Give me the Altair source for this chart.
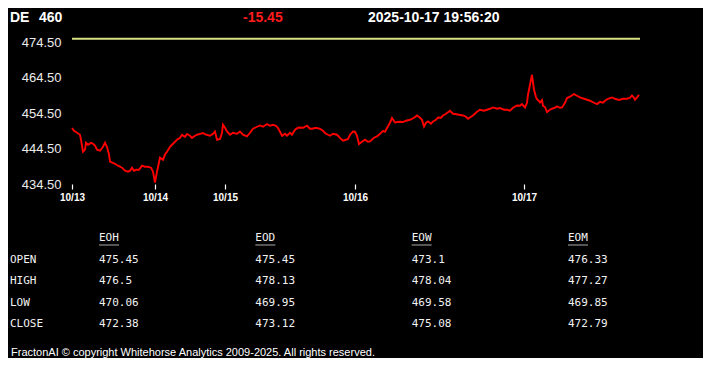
import altair as alt
import pandas as pd

# ---------------- header / footer text ----------------
symbol = "DE"
last_price = "460"
change = "-15.45"
timestamp = "2025-10-17 19:56:20"
footer = "FractonAI © copyright Whitehorse Analytics 2009-2025. All rights reserved."

# ---------------- price series (session index, price) ----------------
t_idx = [0, 2, 5, 8, 9, 11, 13, 14, 16, 19, 21, 23, 25, 28, 31, 33, 35, 37, 38, 43,
         46, 50, 53, 56, 58, 60, 62, 64, 67, 70, 73, 76, 79, 81, 83, 85, 88, 91, 93, 95,
         98, 100, 103, 105, 108, 110, 113, 115, 118, 120, 123, 125, 128, 131, 134, 138, 141, 143, 145, 148,
         150, 151, 153, 155, 158, 161, 165, 168, 171, 175, 178, 181, 185, 188, 191, 195, 198, 201, 204, 206,
         208, 210, 213, 215, 218, 220, 223, 226, 228, 231, 235, 238, 240, 244, 248, 251, 253, 256, 258, 261,
         265, 268, 271, 274, 276, 278, 281, 283, 285, 287, 290, 293, 296, 298, 302, 305, 308, 311, 313, 315,
         318, 320, 323, 327, 331, 334, 338, 342, 345, 348, 350, 352, 354, 356, 359, 361, 364, 366, 369, 371,
         374, 378, 381, 383, 387, 391, 394, 396, 399, 401, 405, 408, 412, 415, 418, 421, 425, 428, 432, 435,
         438, 441, 445, 448, 450, 453, 455, 456, 458, 460, 462, 464, 465, 467, 468, 470, 471, 473, 475, 478,
         480, 483, 485, 488, 490, 493, 495, 498, 502, 505, 508, 512, 515, 518, 522, 525, 528, 531, 533, 536,
         540, 543, 546, 548, 551, 555, 558, 560, 562, 563, 565, 567]
price = [450.27, 449.5, 448.95, 448.39, 446.98, 443.6, 444.2, 446.13, 445.57, 446.1,
         445.85, 445.3, 444.16, 443.88, 445.0, 446.13, 445.0, 442.8, 440.8, 440.2,
         439.66, 439.1, 438.25, 437.97, 438.25, 439.1, 438.25, 438.5, 438.5, 439.66,
         439.37, 439.37, 439.1, 437.97, 434.87, 437.97, 441.92, 441.35, 442.8, 443.6,
         445.0, 445.57, 446.4, 446.98, 447.5, 448.39, 447.8, 448.6, 448.1, 447.5,
         448.1, 448.39, 448.65, 448.85, 448.39, 448.1, 448.65, 449.3, 446.98, 447.2,
         448.95, 451.2, 450.35, 449.3, 448.39, 448.95, 448.65, 449.3, 448.39, 447.9,
         448.95, 450.07, 450.64, 451.0, 450.64, 451.4, 450.92, 451.2, 450.92, 450.27,
         449.23, 448.1, 448.65, 448.1, 448.95, 448.39, 449.8, 450.36, 450.44, 450.36,
         450.92, 450.07, 450.07, 450.36, 450.07, 449.5, 448.87, 448.39, 448.1, 448.65,
         448.39, 447.5, 446.7, 446.98, 447.18, 448.39, 449.3, 449.23, 448.1, 445.77,
         446.42, 446.98, 446.42, 446.5, 447.54, 447.9, 448.65, 449.5, 449.23, 450.27,
         451.77, 453.09, 451.85, 452.05, 451.96, 452.33, 452.61, 453.18, 453.82, 453.18,
         452.61, 450.72, 451.77, 452.13, 451.49, 452.13, 452.61, 453.26, 453.18, 453.82,
         454.3, 455.15, 454.3, 454.22, 454.02, 453.82, 453.46, 452.89, 453.46, 453.82,
         454.87, 455.43, 455.15, 455.43, 455.71, 456.08, 455.71, 455.91, 455.43, 455.43,
         455.15, 455.99, 456.64, 456.56, 457.03, 456.08, 457.4, 459.66, 462.47, 465.29,
         461.06, 459.0, 458.42, 457.86, 457.5, 458.14, 456.56, 456.2, 454.78, 455.43,
         455.71, 455.99, 456.36, 455.99, 456.08, 457.4, 458.73, 459.1, 459.85, 459.37,
         458.9, 458.53, 458.25, 457.97, 457.4, 457.03, 457.68, 457.4, 457.96, 458.53,
         458.9, 458.53, 458.25, 458.25, 458.53, 458.53, 458.8, 459.46, 458.8, 458.25,
         458.9, 459.66]
ref_level = [475.45]

tick_pos = [0, 83, 153, 283, 452]
tick_lab = ["10/13", "10/14", "10/15", "10/16", "10/17"]
y_ticks = [434.5, 444.5, 454.5, 464.5, 474.5]

# ---------------- summary table ----------------
table_cols = ["EOH", "EOD", "EOW", "EOM"]
table_rows = ["OPEN", "HIGH", "LOW", "CLOSE"]
open_vals = ["475.45", "475.45", "473.1", "476.33"]
high_vals = ["476.5", "478.13", "478.04", "477.27"]
low_vals = ["470.06", "469.95", "469.58", "469.85"]
close_vals = ["472.38", "473.12", "475.08", "472.79"]

# ---------------- build ----------------
FONT = "Liberation Sans"
MONO = "DejaVu Sans Mono"
W, H = 568, 149

series = pd.DataFrame({"t": t_idx, "p": price})
ref_df = pd.DataFrame({"p": ref_level})

label_expr = " : ".join(
    f"datum.value == {p} ? '{l}'" for p, l in zip(tick_pos, tick_lab)
) + " : ''"

x_scale = alt.Scale(domain=[0, W], nice=False, zero=False)
y_scale = alt.Scale(domain=[434.5, 476.5], nice=False, zero=False)

x_axis = alt.Axis(values=tick_pos, labelExpr=label_expr, domain=False, grid=False,
                  ticks=True, tickSize=5, tickColor="white", tickWidth=1.2,
                  labelColor="white", labelFont=FONT, labelFontWeight="bold",
                  labelFontSize=10, labelPadding=3, title=None,
                  labelFlush=False, labelOverlap=False)
y_axis = alt.Axis(values=y_ticks, format=".2f", domain=False, grid=False,
                  ticks=False, tickSize=0, labelColor="#ececec", labelFont=FONT,
                  labelFontSize=13, labelPadding=11, title=None)

line = alt.Chart(series).mark_line(color="#ff0000", strokeWidth=1.9).encode(
    x=alt.X("t:Q", scale=x_scale, axis=x_axis),
    y=alt.Y("p:Q", scale=y_scale, axis=y_axis),
)
rule = alt.Chart(ref_df).mark_rule(color="#d6e184", strokeWidth=2).encode(
    y=alt.Y("p:Q", scale=y_scale, axis=y_axis)
)
plot = alt.layer(rule, line)

# table data (column index / row index -> text)
rows_long = []
for ci, c in enumerate(table_cols):
    rows_long.append({"ri": 0, "ci": ci, "txt": c})
for ri, vals in enumerate([open_vals, high_vals, low_vals, close_vals], start=1):
    for ci, v in enumerate(vals):
        rows_long.append({"ri": ri, "ci": ci, "txt": v})
cells_df = pd.DataFrame(rows_long)
rowlab_df = pd.DataFrame({"ri": list(range(1, len(table_rows) + 1)), "txt": table_rows})
hdr_df = pd.DataFrame({"ci": list(range(len(table_cols))), "ri": [0] * len(table_cols)})

ty_scale = alt.Scale(domain=[0, len(table_rows)], range=[203, 289], nice=False, zero=False)
tx_scale = alt.Scale(domain=[0, len(table_cols) - 1], range=[27, 496], nice=False, zero=False)

cells = alt.Chart(cells_df).mark_text(
    align="left", baseline="middle", font=MONO, fontSize=11, color="#f2f2f2"
).encode(
    x=alt.X("ci:Q", scale=tx_scale, axis=None),
    y=alt.Y("ri:Q", scale=ty_scale, axis=None),
    text="txt:N",
)
rowlabels = alt.Chart(rowlab_df).mark_text(
    align="left", baseline="middle", font=MONO, fontSize=11, color="#f2f2f2"
).encode(
    x=alt.value(-62),
    y=alt.Y("ri:Q", scale=ty_scale, axis=None),
    text="txt:N",
)
underline = alt.Chart(hdr_df).mark_tick(
    orient="horizontal", size=20, thickness=1, color="#f2f2f2", xOffset=10, yOffset=7
).encode(
    x=alt.X("ci:Q", scale=tx_scale, axis=None),
    y=alt.Y("ri:Q", scale=ty_scale, axis=None),
)
table = alt.layer(cells, rowlabels, underline)

one = pd.DataFrame({"k": [0]})


def label(txt, x, y, color="white", size=14, weight="bold"):
    return alt.Chart(one).mark_text(
        align="left", baseline="middle", font=FONT, fontSize=size,
        fontWeight=weight, color=color
    ).encode(x=alt.value(x), y=alt.value(y), text=alt.value(txt))


head = alt.layer(
    label(symbol, -62, -17),
    label(last_price, -33, -17),
    label(change, 171, -17, color="#ff1c1c"),
    label(timestamp, 296, -17),
    label(footer, -61, 318, size=11, weight="normal"),
)

chart = alt.layer(plot, table, head).resolve_scale(
    x="independent", y="independent"
).properties(
    width=W, height=H,
    padding={"left": 64, "top": 27, "right": 63, "bottom": 174},
    autosize=alt.AutoSizeParams(type="none"),
    background="black",
).configure_view(stroke=None)

chart.save("out.html", embed_options={"renderer": "svg", "actions": False})
